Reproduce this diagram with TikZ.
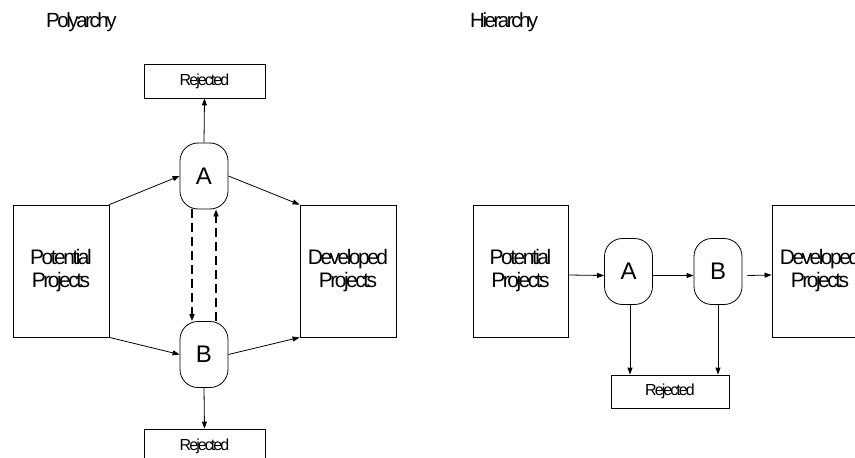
\documentclass[tikz,border=0pt]{standalone}
\usepackage{fontspec}
\setmainfont{Liberation Sans}[LetterSpace=-12]
\usetikzlibrary{arrows.meta}
\begin{document}
\begin{tikzpicture}[x=1pt,y=-1pt,
  box/.style={draw, line width=0.8pt, inner sep=0pt, align=center, minimum width=96pt, minimum height=132pt, font=\fontsize{21}{23}\selectfont},
  rej/.style={draw, line width=0.8pt, inner sep=0pt, minimum width=121pt, minimum height=34pt, font=\fontsize{16}{18}\selectfont},
  proc/.style={draw, line width=0.8pt, inner sep=0pt, rounded corners=18pt, minimum width=48pt, minimum height=66pt, font=\fontsize{24}{26}\selectfont},
  title/.style={anchor=base west, inner sep=0pt, font=\fontsize{20.5}{23}\selectfont},
  arr/.style={-{Triangle[length=7pt,width=5pt]}, line width=0.8pt},
  dsh/.style={arr, line width=1.6pt, dash pattern=on 9pt off 5pt}]
\useasboundingbox (0,0) rectangle (855,458);
\clip (0,0) rectangle (855,458);
% titles
\node[title] (T1) at (46,27) {Polyarchy};
\node[title] (T2) at (470,27) {Hierarchy};
% Polyarchy
\node[box] (P1) at (61,271) {Potential\\Projects};
\node[box] (D1) at (348,271) {Developed\\Projects};
\node[proc] (A1) at (204,176) {A};
\node[proc] (B1) at (204,354.5) {B};
\node[rej] (R1) at (204.5,81) {Rejected};
\node[rej] (R2) at (204.5,446) {Rejected};
\draw[arr] (A1.north) -- (R1.south);
\draw[arr] (B1.south) -- (R2.north);
\draw[arr] (P1.north east) -- (A1.west);
\draw[arr] (A1.east) -- (D1.north west);
\draw[arr] (P1.south east) -- (B1.west);
\draw[arr] (B1.east) -- (D1.south west);
\draw[dsh] ([xshift=-12pt]A1.south) -- ([xshift=-12pt]B1.north);
\draw[dsh] ([xshift=12pt]B1.north) -- ([xshift=12pt]A1.south);
% Hierarchy
\node[box, minimum width=95pt] (P2) at (520.5,271) {Potential\\Projects};
\node[proc] (A2) at (628.5,271.5) {A};
\node[proc] (B2) at (718,271.5) {B};
\node[box] (D2) at (820,271) {Developed\\Projects};
\node[rej, minimum width=118pt, minimum height=33pt] (R3) at (670,391.5) {Rejected};
\draw[arr] ([yshift=-4pt]P2.east) -- ([yshift=-4pt]A2.west);
\draw[arr] ([yshift=-4pt]A2.east) -- ([yshift=-4pt]B2.west);
\draw[arr] ([xshift=5pt,yshift=-4pt]B2.east) -- ([yshift=-4pt]D2.west);
\draw[arr] ([xshift=1.5pt]A2.south) -- ([xshift=1.5pt]A2.south |- R3.north);
\draw[arr] (B2.south) -- (B2.south |- R3.north);
\end{tikzpicture}
\end{document}
